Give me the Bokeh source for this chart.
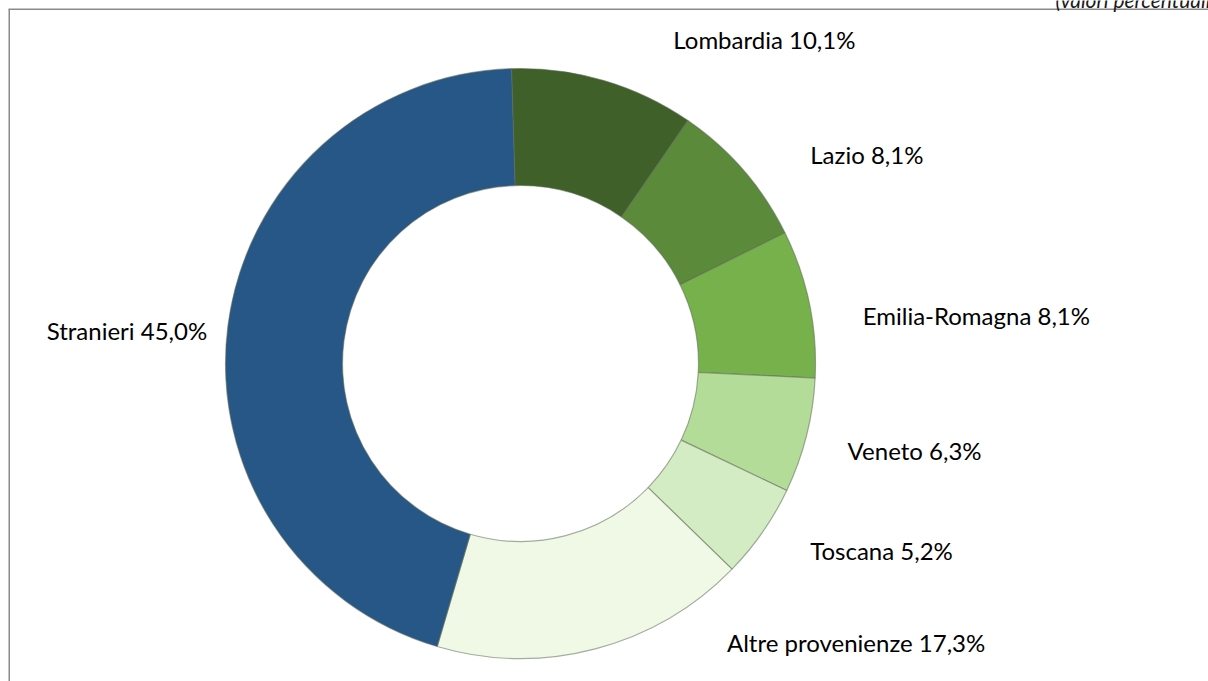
import math
from bokeh.plotting import figure
from bokeh.models import ColumnDataSource
from bokeh.core.properties import value
from bokeh.embed import file_html
from bokeh.resources import INLINE

# ---- data ----
categories = ["Lombardia", "Lazio", "Emilia-Romagna", "Veneto", "Toscana",
              "Altre provenienze", "Stranieri"]
shares = [10.1, 8.1, 8.1, 6.3, 5.2, 17.3, 45.0]
label_texts = ["Lombardia 10,1%", "Lazio 8,1%", "Emilia-Romagna 8,1%", "Veneto 6,3%",
               "Toscana 5,2%", "Altre provenienze 17,3%", "Stranieri 45,0%"]
note_text = "(valori percentuali)"

# ---- style ----
colors = ["#3F6129", "#5B8A3A", "#77B14C", "#B4DC99", "#D3ECC4", "#EFF9E5", "#265787"]
W, H = 1208, 681
CX, CY = 520, 318          # donut centre
R_OUT, R_IN = 295, 178
START_DEG = 91.75          # first slice starts just left of 12 o'clock
LAB_R = 325
# per-label layout nudges in px (dx right, dy down)
nudges = [(61, -12), (44, 4), (24, 18), (12, 7), (23, 1), (124, -35), (9, 8)]
FONT = "Lato"
FONT_SIZE = "24px"

total = sum(shares)
starts, ends, mids = [], [], []
a = START_DEG
for v in shares:
    span = v / total * 360.0
    starts.append(math.radians(a))
    ends.append(math.radians(a - span))
    mids.append(math.radians(a - span / 2))
    a -= span

lx, ly, align = [], [], []
for m, (dx, dy) in zip(mids, nudges):
    x = CX + LAB_R * math.cos(m)
    y = CY + LAB_R * math.sin(m)
    lx.append(x + dx)
    ly.append(y - dy)
    align.append("left" if math.cos(m) >= 0 else "right")

src = ColumnDataSource(dict(cat=categories, start=starts, end=ends, color=colors,
                            lx=lx, ly=ly, txt=label_texts, align=align))

p = figure(width=W, height=H, x_range=(0, W), y_range=(0, H),
           output_backend="svg", toolbar_location=None, min_border=0,
           match_aspect=False)
p.axis.visible = False
p.grid.visible = False
p.outline_line_color = None
p.background_fill_color = "white"

p.annular_wedge(x=CX, y=CY, inner_radius=R_IN, outer_radius=R_OUT,
                start_angle="start", end_angle="end", direction="clock",
                fill_color="color", line_color="#5e6b57", line_alpha=0.55,
                line_width=1.2, source=src)

p.text(x="lx", y="ly", text="txt", text_align="align", text_baseline="middle",
       text_font=value(FONT), text_font_size=FONT_SIZE, text_color="#000000",
       source=src)

# frame lines (top and left) and cropped note
p.line(x=[8.75, 8.75], y=[0, H - 8.75], line_color="#8a8a8a", line_width=1.5)
p.line(x=[8, W], y=[H - 8.75, H - 8.75], line_color="#8a8a8a", line_width=1.5)
p.text(x=[1055], y=[H + 1.5], text=[note_text], text_align="left",
       text_baseline="alphabetic", text_font=value(FONT), text_font_style="italic",
       text_font_size="21px", text_color="#1a1a1a")

open("out.html", "w").write(file_html(p, INLINE))
